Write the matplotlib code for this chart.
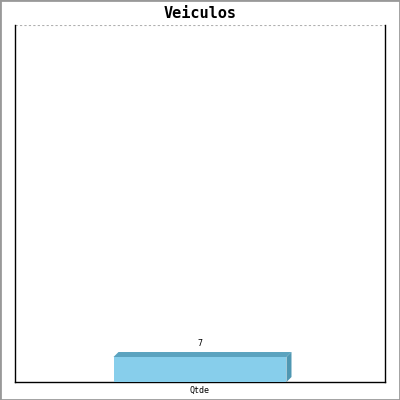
import matplotlib
matplotlib.use("Agg")
import matplotlib.pyplot as plt
from matplotlib.patches import Polygon, Rectangle

# chart data
title = "Veiculos"
categories = ["Qtde"]
values = [7]
y_max = 100

front_color = "#87ceeb"
top_color = "#5ba3bf"
side_color = "#4f97b2"

fig = plt.figure(figsize=(4, 4), dpi=100)
fig.patch.set_facecolor("white")
fig.patches.append(Rectangle((0, 0), 1, 1, transform=fig.transFigure,
                             fill=False, edgecolor="#999999", linewidth=2))

ax = fig.add_axes([0.0375, 0.045, 0.925, 0.8925])
ax.set_xlim(-1, 1)
ax.set_ylim(0, y_max)

x = list(range(len(categories)))
width = 0.935
bars = ax.bar(x, values, width=width, color=front_color, zorder=3)

# fake 3d depth, 5 px right and up
dx = 5 * 2 / 370
dy = 5 * y_max / 357
for b in bars:
    x0 = b.get_x()
    x1 = x0 + b.get_width()
    h = b.get_height()
    ax.add_patch(Polygon([(x0, h), (x0 + dx, h + dy), (x1 + dx, h + dy), (x1, h)],
                         closed=True, facecolor=top_color, edgecolor="none", zorder=2))
    ax.add_patch(Polygon([(x1, 0), (x1, h), (x1 + dx, h + dy), (x1 + dx, dy)],
                         closed=True, facecolor=side_color, edgecolor="none", zorder=2))
    ax.text(b.get_x() + b.get_width() / 2, h + dy + 1.2, str(int(h)),
            ha="center", va="bottom", fontsize=6, family="DejaVu Sans Mono")

ax.axhline(y_max, color="#b0b0b0", linestyle=(0, (2, 2)), linewidth=0.8, zorder=1)

ax.spines["top"].set_visible(False)
for s in ["left", "right", "bottom"]:
    ax.spines[s].set_linewidth(1.0)
    ax.spines[s].set_color("black")

ax.set_yticks([])
ax.set_xticks(x)
ax.set_xticklabels(categories, fontsize=6, family="DejaVu Sans Mono")
ax.tick_params(axis="x", length=0, pad=3)

fig.text(0.5, 0.966, title, ha="center", va="center", fontsize=11,
         fontweight="bold", family="DejaVu Sans Mono")

fig.savefig("out.png", dpi=100)
